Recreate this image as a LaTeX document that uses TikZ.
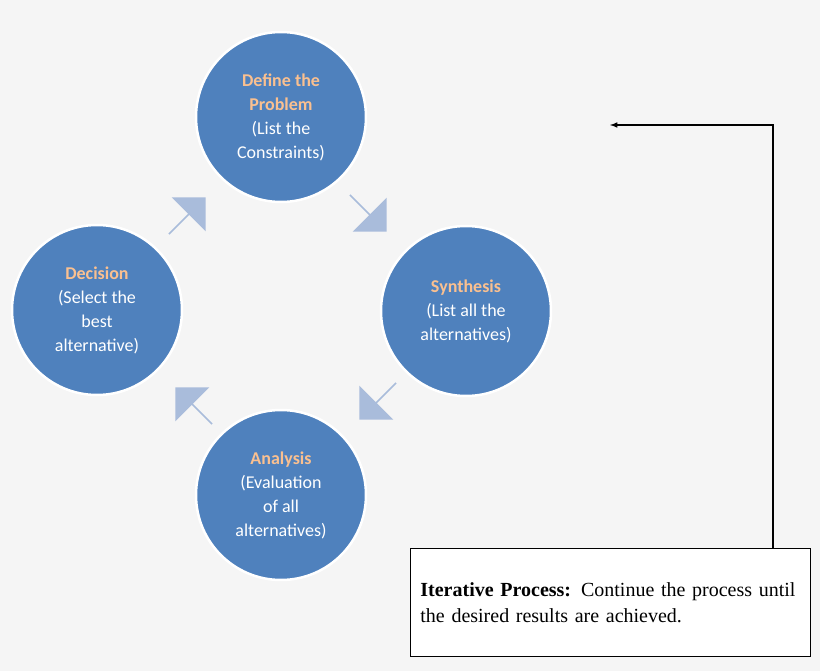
\documentclass[tikz,border=0pt]{standalone}
\usepackage{fontspec}
\setmainfont{Carlito}
\newfontfamily\timesfont{Liberation Serif}
\usetikzlibrary{shapes.arrows}
\definecolor{stepblue}{HTML}{4F81BD}
\definecolor{steptitle}{HTML}{FAC090}
\definecolor{flowblue}{HTML}{A9BCDB}
\tikzset{
  stage/.style={circle, fill=stepblue, draw=white, line width=2.5pt, minimum size=170pt,
    text=white, align=center, font=\fontsize{18}{24}\selectfont},
  flow/.style={single arrow, fill=flowblue, draw=none, minimum height=52pt,
    minimum width=48pt, single arrow head extend=6pt, inner sep=0pt}
}
\newcommand{\stagetitle}[1]{{\color{steptitle}\bfseries #1}}
\begin{document}
\begin{tikzpicture}[x=1pt,y=-1pt]
  \fill[white!96!black] (0,0) rectangle (820,671);
  \useasboundingbox (0,0) rectangle (820,671);
  \node[stage] (define) at (281,117) {\stagetitle{Define the}\\\stagetitle{Problem}\\(List the\\Constraints)};
  \node[stage] (synth) at (466,311) {\stagetitle{Synthesis}\\(List all the\\alternatives)};
  \node[stage] (analysis) at (281,495) {\stagetitle{Analysis}\\(Evaluation\\of all\\alternatives)};
  \node[stage] (decision) at (97,310) {\stagetitle{Decision}\\(Select the\\best\\alternative)};
  % block arrows between the stages
  \node[flow, rotate=-45] (f1) at (368,213) {};
  \node[flow, rotate=-135] (f2) at (378,401) {};
  \node[flow, rotate=135] (f3) at (194,406) {};
  \node[flow, rotate=45] (f4) at (187,216) {};
  % note box
  \node[draw=black, line width=0.8pt, fill=white, minimum width=400pt, minimum height=108pt,
    text width=380pt, align=left, font=\timesfont\fontsize{20}{26}\selectfont, anchor=north west]
    (note) at (410,548) {\textbf{Iterative Process:} Continue the process until the desired results are achieved.};
  \coordinate (corner) at (773,125);
  \coordinate (tip) at (610,125);
  \draw[line width=1.5pt, -latex] (note.north -| corner) -- (corner) -- (tip);
\end{tikzpicture}
\end{document}
